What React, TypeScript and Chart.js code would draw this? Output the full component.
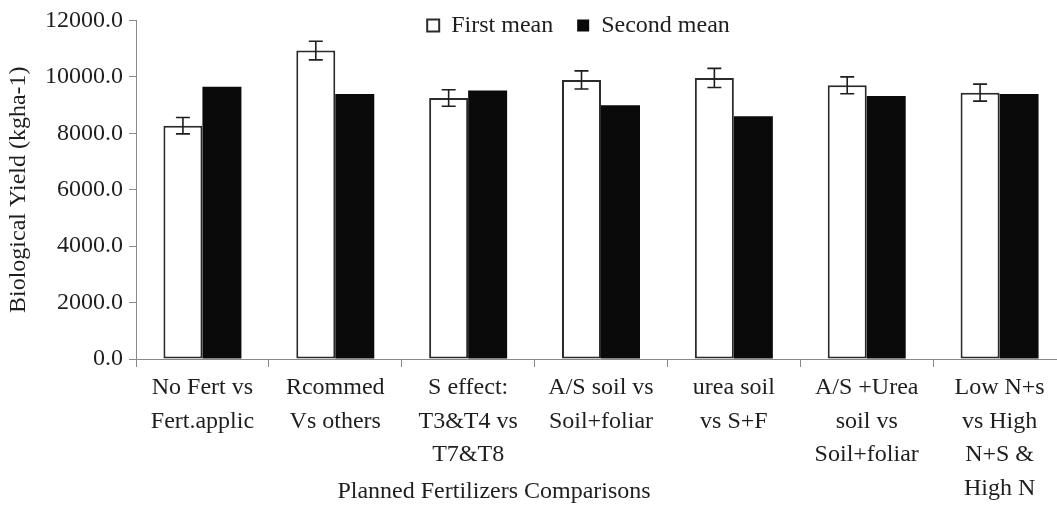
import React, { useEffect, useRef } from "react";
import { Chart, registerables } from "chart.js";

Chart.register(...registerables);

const categories: string[][] = [
  ["No Fert vs", "Fert.applic"],
  ["Rcommed", "Vs others"],
  ["S effect:", "T3&T4 vs", "T7&T8"],
  ["A/S soil vs", "Soil+foliar"],
  ["urea soil", "vs S+F"],
  ["A/S +Urea", "soil vs", "Soil+foliar"],
  ["Low N+s", "vs High", "N+S &", "High N"],
];

const seriesNames = ["First mean", "Second mean"];
const firstMean = [8270, 10930, 9250, 9890, 9960, 9700, 9440];
const secondMean = [9650, 9390, 9520, 8990, 8600, 9320, 9390];
const firstErr = [290, 330, 290, 320, 340, 300, 300];

const yMin = 0;
const yMax = 12000;
const yStep = 2000;

const xTitle = "Planned Fertilizers Comparisons";
const yTitle = "Biological Yield (kgha-1)";

const FONT = '"Liberation Serif", "Times New Roman", Times, serif';
const TEXT = "#1e1e1e";
const AXIS = "#8a8a8a";

export default function App() {
  const ref = useRef<HTMLCanvasElement>(null);

  useEffect(() => {
    if (!ref.current) return;

    const errorBars = {
      id: "errorBars",
      afterDatasetsDraw(chart: any) {
        const meta = chart.getDatasetMeta(0);
        const y = chart.scales.y;
        const ctx = chart.ctx;
        ctx.save();
        ctx.strokeStyle = "#1e1e1e";
        ctx.lineWidth = 1.6;
        meta.data.forEach((bar: any, i: number) => {
          const v = firstMean[i];
          const e = firstErr[i];
          const yTop = y.getPixelForValue(v + e);
          const yBot = y.getPixelForValue(v - e);
          const x = bar.x;
          const cap = 7;
          ctx.beginPath();
          ctx.moveTo(x, yTop);
          ctx.lineTo(x, yBot);
          ctx.moveTo(x - cap, yTop);
          ctx.lineTo(x + cap, yTop);
          ctx.moveTo(x - cap, yBot);
          ctx.lineTo(x + cap, yBot);
          ctx.stroke();
        });
        ctx.restore();
      },
    };

    // Keep the (horizontal, top) legend from reserving space, then place it over the plot.
    const legendPlace = {
      id: "legendPlace",
      beforeLayout(chart: any) {
        const lg = chart.legend;
        if (lg && !lg.__patched) {
          const orig = lg.fit.bind(lg);
          lg.fit = function () {
            orig();
            this.height = 0;
          };
          lg.__patched = true;
        }
      },
      afterLayout(chart: any) {
        const lg = chart.legend;
        const ca = chart.chartArea;
        if (!lg || !ca) return;
        lg.left = ca.left - 45;
        lg.right = ca.right;
        lg.top = ca.top - 31;
        lg.bottom = ca.top + 40;
        lg.height = lg.bottom - lg.top;
        lg.width = lg.right - lg.left;
      },
    };

    const xTitlePlugin = {
      id: "xTitleCustom",
      afterDraw(chart: any) {
        const { ctx, chartArea: ca, height } = chart;
        ctx.save();
        ctx.font = `24px ${FONT}`;
        ctx.fillStyle = TEXT;
        ctx.textAlign = "center";
        ctx.textBaseline = "middle";
        ctx.fillText(xTitle, ca.left + (ca.right - ca.left) * 0.385, height - 18);
        ctx.restore();
      },
    };

    const chart = new Chart(ref.current, {
      type: "bar",
      data: {
        labels: categories,
        datasets: [
          {
            label: seriesNames[0],
            data: firstMean,
            backgroundColor: "#ffffff",
            borderColor: "#2b2b2b",
            borderWidth: 2,
            borderSkipped: false,
          },
          {
            label: seriesNames[1],
            data: secondMean,
            backgroundColor: "#0a0a0a",
            borderColor: "#0a0a0a",
            borderWidth: 0,
          },
        ],
      },
      options: {
        animation: false,
        responsive: true,
        maintainAspectRatio: false,
        layout: { padding: { left: 0, right: 4, top: 16, bottom: 0 } },
        datasets: { bar: { categoryPercentage: 0.587, barPercentage: 1.0 } } as any,
        plugins: {
          legend: {
            position: "top",
            align: "center",
            labels: {
              font: { family: FONT, size: 24 },
              color: TEXT,
              boxWidth: 12,
              boxHeight: 12,
              padding: 24,
            },
          },
          tooltip: { enabled: false },
        },
        scales: {
          x: {
            grid: {
              display: true,
              drawOnChartArea: false,
              drawTicks: true,
              tickLength: 8,
              color: AXIS,
              offset: true,
            },
            border: { color: AXIS, width: 1 },
            ticks: {
              font: { family: FONT, size: 24, lineHeight: 1.4 },
              color: TEXT,
              padding: 4,
              maxRotation: 0,
              autoSkip: false,
            },
            afterFit: (s: any) => {
              s.height = 151;
            },
          },
          y: {
            min: yMin,
            max: yMax,
            ticks: {
              stepSize: yStep,
              callback: (v: any) => Number(v).toFixed(1),
              font: { family: FONT, size: 24 },
              color: TEXT,
              padding: 6,
            },
            grid: {
              drawOnChartArea: false,
              drawTicks: true,
              tickLength: 7,
              color: AXIS,
            },
            border: { color: AXIS, width: 1 },
            title: {
              display: true,
              text: yTitle,
              font: { family: FONT, size: 24 },
              color: TEXT,
              padding: { top: 4, bottom: 0 },
            },
            afterFit: (s: any) => {
              s.width = 136;
            },
          },
        },
      },
      plugins: [errorBars, legendPlace, xTitlePlugin],
    });

    return () => chart.destroy();
  }, []);

  return (
    <div
      style={{
        position: "fixed",
        left: 0,
        top: 0,
        width: 1057,
        height: 510,
        overflow: "hidden",
        background: "#ffffff",
      }}
    >
      <div style={{ position: "relative", width: 1070, height: 510 }}>
        <canvas ref={ref} />
      </div>
    </div>
  );
}
